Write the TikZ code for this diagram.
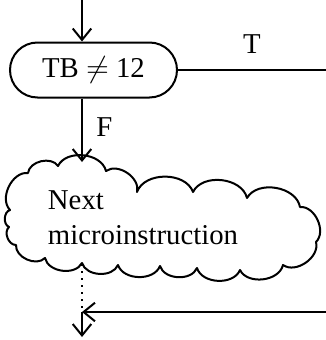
\documentclass[tikz,border=0pt]{standalone}
\usepackage{fontspec}
\setmainfont{Liberation Serif}
\usetikzlibrary{positioning,arrows.meta,shapes.misc}
\tikzset{
  flow-test/.style={draw,rounded rectangle,line width=0.8pt,
    minimum width=66.8pt,minimum height=22pt,inner sep=0pt},
  flow-text/.style={align=left,inner sep=0pt},
  flow-puff/.style={line width=0.8pt,line join=round},
  arrow/.style={-{Straight Barb[length=1.6mm,width=2.6mm]},line width=0.8pt},
  flow-line/.style={line width=0.8pt},
  flow-dots/.style={line width=0.8pt,dotted},
}
\begin{document}
\begin{tikzpicture}[x=0.4pt,y=-0.4pt,font=\fontsize{11.5}{14}\selectfont]
  \useasboundingbox (0,0) rectangle (326,340);
  \coordinate (in) at (82,0);
  \node[flow-test] (test) at (93.5,70) {TB $\neq$ 12};
  \coordinate (tout) at (326,70);
  \node[flow-text] (cloud) at (143,218) {Next\\microinstruction};
  % cloud outline
  \draw[flow-puff] (10,210) to[bend left=70] (28,173) to[bend left=70] (58,166)
    to[bend left=70] (106,171) to[bend left=70] (137,192) to[bend left=70] (193,192)
    to[bend left=70] (247,198) to[bend left=70] (300,207) to[bend left=70] (316,242)
    to[bend left=70] (283,265) to[bend left=70] (240,270) to[bend left=70] (197,268)
    to[bend left=70] (160,266) to[bend left=70] (118,265) to[bend left=70] (82,263)
    to[bend left=70] (45,258) to[bend left=70] (16,245) to[bend left=70] (9,227)
    to[bend left=70] cycle;
  \coordinate (ctop) at (82,162);
  \coordinate (cbot) at (82,264);
  \coordinate (join) at (82,312);
  \coordinate (back) at (326,312);
  \coordinate (out) at (82,337);
  \draw[arrow] (in) -- (in |- test.north);
  \draw[flow-line] (test.east) -- node[above=3pt,pos=0.5] (t) {T} (tout);
  \draw[arrow] (in |- test.south) -- node[right=2pt,pos=0.45] (f) {F} (ctop);
  \draw[flow-dots] (cbot) -- (join);
  \draw[arrow] (back) -- (join);
  \draw[arrow] (join) -- (out);
\end{tikzpicture}
\end{document}
